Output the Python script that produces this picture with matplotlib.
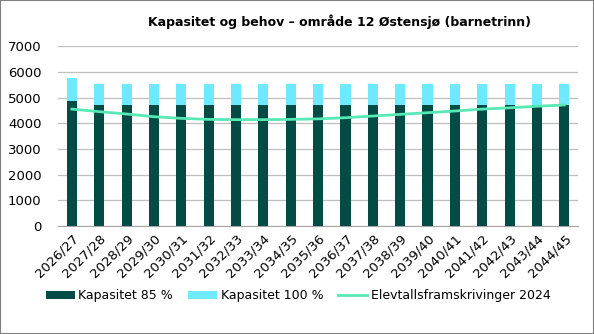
import matplotlib.pyplot as plt
from matplotlib.patches import Rectangle

years = ['2026/27', '2027/28', '2028/29', '2029/30', '2030/31', '2031/32', '2032/33',
         '2033/34', '2034/35', '2035/36', '2036/37', '2037/38', '2038/39', '2039/40',
         '2040/41', '2041/42', '2042/43', '2043/44', '2044/45']
kap_85 = [4880] + [4700] * 18
kap_100 = [5740] + [5530] * 18
elevtall = [4550, 4450, 4360, 4255, 4190, 4150, 4140, 4140, 4150, 4170,
            4215, 4280, 4345, 4410, 4475, 4550, 4600, 4660, 4710]

dark = '#034B45'
light = '#6FE9FF'
mint = '#57E8B4'

plt.rcParams['font.family'] = 'DejaVu Sans'
fig = plt.figure(figsize=(5.94, 3.34), dpi=100)
ax = fig.add_axes([0.098, 0.323, 0.875, 0.539])

x = range(len(years))
# 100 % behind, 85 % in front
b100 = ax.bar(x, kap_100, width=0.37, color=light, zorder=2)
b85 = ax.bar(x, kap_85, width=0.37, color=dark, zorder=3)
ln, = ax.plot(x, elevtall, color=mint, linewidth=2, zorder=4)

ax.set_xlim(-0.5, len(years) - 0.5)
ax.set_ylim(0, 7000)
ax.set_yticks(range(0, 7001, 1000))
ax.yaxis.grid(True, color='#BFBFBF', linewidth=0.9, zorder=0)
ax.set_axisbelow(True)
for s in ['top', 'right', 'left']:
    ax.spines[s].set_visible(False)
ax.spines['bottom'].set_color('#A6A6A6')
ax.tick_params(axis='y', length=0, labelsize=9.5, pad=12)
ax.tick_params(axis='x', length=0, labelsize=9.5, pad=4)
ax.set_xticks(list(x))
ax.set_xticklabels(years, rotation=45, ha='right', rotation_mode='anchor')

fig.text(0.572, 0.935, 'Kapasitet og behov – område 12 Østensjø (barnetrinn)',
         ha='center', va='center', fontsize=9, fontweight='bold')

fig.legend([b85, b100, ln],
           ['Kapasitet 85 %', 'Kapasitet 100 %', 'Elevtallsframskrivinger 2024'],
           loc='center', bbox_to_anchor=(0.502, 0.115), ncol=3, frameon=False,
           fontsize=9, handlelength=2.3, handleheight=0.6, columnspacing=1.2,
           handletextpad=0.3)

fig.patches.append(Rectangle((0, 0), 1, 1, transform=fig.transFigure, fill=False,
                             edgecolor='#7F7F7F', linewidth=1.5))

plt.savefig('out.png', dpi=100)
